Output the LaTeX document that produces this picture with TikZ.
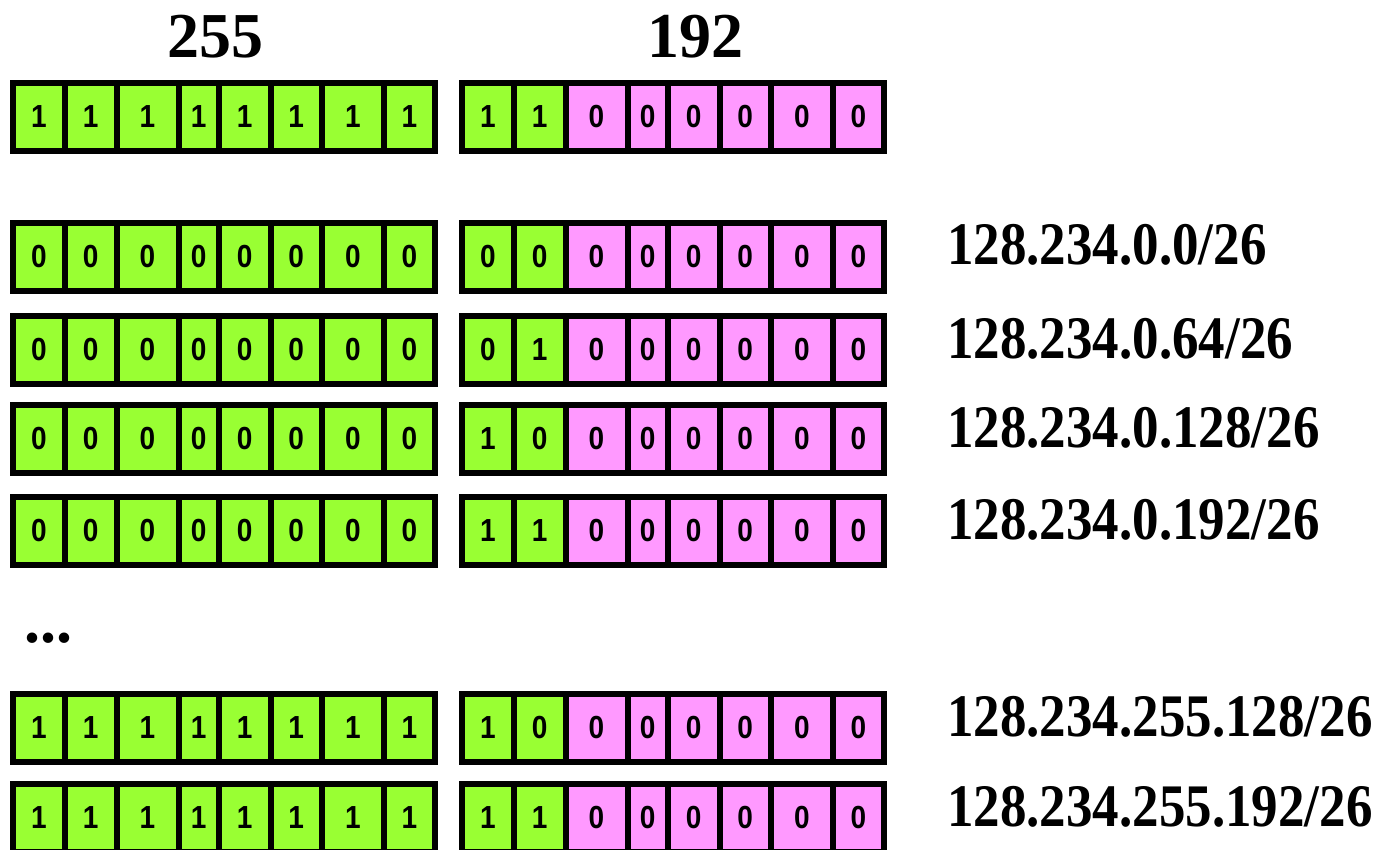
\documentclass[tikz,border=0pt]{standalone}
\usepackage{fontspec}
\usepackage{graphicx}
\setmainfont{Liberation Serif}
\newfontfamily\cellfont{Liberation Sans}
\definecolor{bitgreen}{RGB}{153,255,51}
\definecolor{bitpink}{RGB}{255,153,255}
\newcommand\tallish[1]{\scalebox{1}[1.14]{#1}}
\tikzset{
  bitcell/.style={draw=black, line width=6pt, minimum height=68pt, inner sep=0pt,
    font=\cellfont\bfseries\fontsize{28}{28}\selectfont},
  netlabel/.style={anchor=base west, inner sep=0pt, font=\bfseries\fontsize{53}{53}\selectfont},
  bytetitle/.style={anchor=base, inner sep=0pt, font=\bfseries\fontsize{64}{64}\selectfont}
}
\newcommand\bitbyte[5]{%
  \foreach \b [count=\i] in {#4} {
    \pgfmathsetmacro\l{{13,65,116.5,178.5,219,270.5,322,384,435}[\i-1]+#3}
    \pgfmathsetmacro\r{{13,65,116.5,178.5,219,270.5,322,384,435}[\i]+#3}
    \pgfmathsetmacro\w{\r-\l}
    \pgfmathsetmacro\cx{(\l+\r)/2}
    \ifnum\i>#5\relax\def\fc{bitpink}\else\def\fc{bitgreen}\fi
    \node[bitcell, fill=\fc, minimum width=\w pt] (#1-\i) at (\cx,#2+1) {\tallish{\b}};
  }}
\begin{document}
\begin{tikzpicture}[x=1pt,y=-1pt]
\useasboundingbox (0,0) rectangle (1378,850);
\node[bytetitle] (t255) at (215,58) {255};
\node[bytetitle] (t192) at (695,58) {192};
% row 0: mask
\bitbyte{r0a}{116}{0}{1,1,1,1,1,1,1,1}{8}
\bitbyte{r0b}{116}{449}{1,1,0,0,0,0,0,0}{2}
% subnets
\bitbyte{r1a}{256}{0}{0,0,0,0,0,0,0,0}{8}
\bitbyte{r1b}{256}{449}{0,0,0,0,0,0,0,0}{2}
\node[netlabel] (l1) at (947,265) {\tallish{128.234.0.0/26}};
\bitbyte{r2a}{349}{0}{0,0,0,0,0,0,0,0}{8}
\bitbyte{r2b}{349}{449}{0,1,0,0,0,0,0,0}{2}
\node[netlabel] (l2) at (947,358) {\tallish{128.234.0.64/26}};
\bitbyte{r3a}{438}{0}{0,0,0,0,0,0,0,0}{8}
\bitbyte{r3b}{438}{449}{1,0,0,0,0,0,0,0}{2}
\node[netlabel] (l3) at (947,447) {\tallish{128.234.0.128/26}};
\bitbyte{r4a}{530}{0}{0,0,0,0,0,0,0,0}{8}
\bitbyte{r4b}{530}{449}{1,1,0,0,0,0,0,0}{2}
\node[netlabel] (l4) at (947,539) {\tallish{128.234.0.192/26}};
\node[anchor=base west, inner sep=0pt, font=\bfseries\fontsize{64}{64}\selectfont] (dots) at (24,642) {...};
\bitbyte{r5a}{727}{0}{1,1,1,1,1,1,1,1}{8}
\bitbyte{r5b}{727}{449}{1,0,0,0,0,0,0,0}{2}
\node[netlabel] (l5) at (947,736) {\tallish{128.234.255.128/26}};
\bitbyte{r6a}{817}{0}{1,1,1,1,1,1,1,1}{8}
\bitbyte{r6b}{817}{449}{1,1,0,0,0,0,0,0}{2}
\node[netlabel] (l6) at (947,826) {\tallish{128.234.255.192/26}};
\end{tikzpicture}
\end{document}
